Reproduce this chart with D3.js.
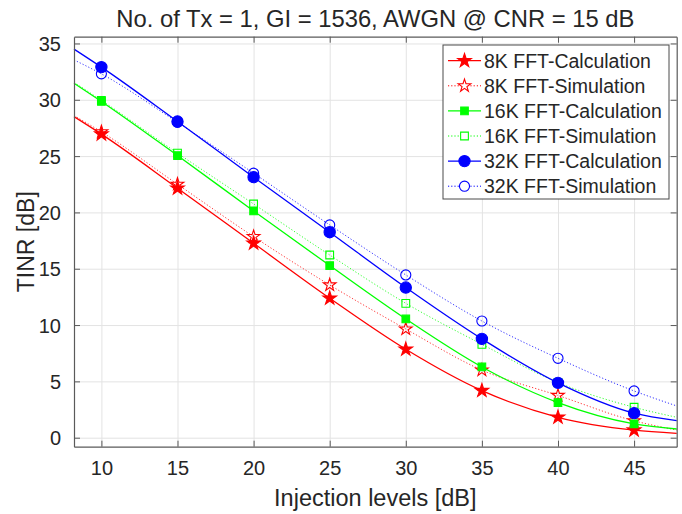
<!DOCTYPE html>
<html>
<head>
<meta charset="utf-8">
<script src="https://cdn.jsdelivr.net/npm/d3@7/dist/d3.min.js"></script>
<style>
  body { margin: 0; background: #fff; }
  text { font-family: "Liberation Sans", Arial, Helvetica, sans-serif; fill: #262626; }
</style>
</head>
<body>
<div id="chart"></div>
<script>
// injection levels where markers sit, and where the curves start / end
var xMarks = [10, 15, 20, 25, 30, 35, 40, 45];
var xLine = [8.2, 10, 15, 20, 25, 30, 35, 40, 45, 47.8];

// TINR [dB] along xLine
var calc8k  = [28.5, 26.95, 22.15, 17.26, 12.38, 7.85, 4.18, 1.81, 0.67, 0.39];
var sim8k   = [28.6, 27.15, 22.5, 17.85, 13.56, 9.65, 6.0, 3.75, 1.5, 0.68];
var calc16k = [31.47, 29.85, 25.05, 20.13, 15.28, 10.54, 6.28, 3.12, 1.23, 0.77];
var sim16k  = [31.55, 29.95, 25.26, 20.75, 16.22, 11.93, 8.29, 4.9, 2.7, 1.81];
var calc32k = [34.5, 32.9, 28.07, 23.13, 18.24, 13.33, 8.77, 4.87, 2.18, 1.51];
var sim32k  = [33.54, 32.3, 28.0, 23.48, 18.89, 14.45, 10.36, 7.05, 4.15, 2.82];

var xTicks = [10, 15, 20, 25, 30, 35, 40, 45];
var yTicks = [0, 5, 10, 15, 20, 25, 30, 35];

var series = [
  { name: '8K FFT-Calculation',  values: calc8k,  color: '#ff0000', dotted: false, marker: 'star',   filled: true },
  { name: '8K FFT-Simulation',   values: sim8k,   color: '#ff0000', dotted: true,  marker: 'star',   filled: false },
  { name: '16K FFT-Calculation', values: calc16k, color: '#00ff00', dotted: false, marker: 'square', filled: true },
  { name: '16K FFT-Simulation',  values: sim16k,  color: '#00ff00', dotted: true,  marker: 'square', filled: false },
  { name: '32K FFT-Calculation', values: calc32k, color: '#0000ff', dotted: false, marker: 'circle', filled: true },
  { name: '32K FFT-Simulation',  values: sim32k,  color: '#0000ff', dotted: true,  marker: 'circle', filled: false }
];

var width = 682, height = 514;
var margin = { top: 36.7, right: 5.3, bottom: 67.3, left: 74 };
var w = width - margin.left - margin.right,
    h = height - margin.top - margin.bottom;

var svg = d3.select('#chart').append('svg')
    .attr('width', width)
    .attr('height', height);

var x = d3.scaleLinear().domain([8.2, 47.8]).range([0, w]);
var y = d3.scaleLinear().domain([-0.8, 35.6]).range([h, 0]);

var g = svg.append('g')
    .attr('transform', 'translate(' + margin.left + ',' + margin.top + ')');

// grid
g.append('g')
    .attr('transform', 'translate(0,' + h + ')')
    .call(d3.axisBottom(x).tickValues(xTicks).tickSize(-h).tickFormat(''))
    .call(a => a.select('.domain').remove())
    .selectAll('line').attr('stroke', '#e3e3e3').attr('stroke-width', 1);
g.append('g')
    .call(d3.axisLeft(y).tickValues(yTicks).tickSize(-w).tickFormat(''))
    .call(a => a.select('.domain').remove())
    .selectAll('line').attr('stroke', '#e3e3e3').attr('stroke-width', 1);

// curves
var line = d3.line()
    .x((d, i) => x(xLine[i]))
    .y(d => y(d))
    .curve(d3.curveMonotoneX);

function markerPath(type, filled) {
  if (type == 'star') return d3.symbol().type(d3.symbolStar).size(filled ? 58 : 50)();
  if (type == 'square') return d3.symbol().type(d3.symbolSquare).size(filled ? 58 : 60)();
  return d3.symbol().type(d3.symbolCircle).size(filled ? 100 : 80)();
}

series.forEach(function (s) {
  var sg = g.append('g');
  sg.append('path')
      .datum(s.values)
      .attr('d', line)
      .attr('fill', 'none')
      .attr('stroke', s.color)
      .attr('stroke-width', s.dotted ? 1 : 1.3)
      .attr('stroke-dasharray', s.dotted ? '1.2,2' : null)
      .attr('opacity', s.dotted ? 0.8 : 1);

  var pts = s.values.map((v, i) => ({ x: xLine[i], y: v }))
      .filter(d => xMarks.indexOf(d.x) >= 0);

  sg.selectAll('.mk')
      .data(pts)
      .enter()
      .append('path')
      .attr('transform', d => 'translate(' + x(d.x) + ',' + y(d.y) + ')')
      .attr('d', markerPath(s.marker, s.filled))
      .attr('fill', s.filled ? s.color : 'none')
      .attr('stroke', s.color)
      .attr('stroke-width', 1.1);
});

// box with inward ticks on all four sides
var axisColor = '#5a5a5a';
var axB = g.append('g')
    .attr('transform', 'translate(0,' + h + ')')
    .call(d3.axisBottom(x).tickValues(xTicks).tickSizeInner(-6).tickSizeOuter(0).tickPadding(14));
var axL = g.append('g')
    .call(d3.axisLeft(y).tickValues(yTicks).tickSizeInner(-6).tickSizeOuter(0).tickPadding(13));
var axT = g.append('g')
    .call(d3.axisTop(x).tickValues(xTicks).tickSizeInner(-6).tickSizeOuter(0).tickFormat(''));
var axR = g.append('g')
    .attr('transform', 'translate(' + w + ',0)')
    .call(d3.axisRight(y).tickValues(yTicks).tickSizeInner(-6).tickSizeOuter(0).tickFormat(''));

[axB, axL, axT, axR].forEach(function (a) {
  a.select('.domain').attr('stroke', axisColor).attr('stroke-width', 1.2);
  a.selectAll('line').attr('stroke', axisColor).attr('stroke-width', 1);
  a.selectAll('text').style('font-size', '20px').attr('fill', '#262626');
});
axL.selectAll('text').attr('dy', '0.36em');

// title and axis labels
svg.append('text')
    .attr('x', margin.left + w / 2)
    .attr('y', 27)
    .attr('text-anchor', 'middle')
    .style('font-size', '23.8px')
    .text('No. of Tx = 1, GI = 1536, AWGN @ CNR = 15 dB');

svg.append('text')
    .attr('x', margin.left + w / 2)
    .attr('y', 506)
    .attr('text-anchor', 'middle')
    .style('font-size', '23.5px')
    .text('Injection levels [dB]');

svg.append('text')
    .attr('transform', 'translate(34,' + (margin.top + h / 2) + ') rotate(-90)')
    .attr('text-anchor', 'middle')
    .style('font-size', '23px')
    .text('TINR [dB]');

// legend
var lg = svg.append('g').attr('transform', 'translate(443,45)');
lg.append('rect')
    .attr('width', 226)
    .attr('height', 154)
    .attr('fill', '#fff')
    .attr('stroke', '#4a4a4a')
    .attr('stroke-width', 1);

var rows = lg.selectAll('.row')
    .data(series)
    .enter()
    .append('g')
    .attr('transform', (d, i) => 'translate(0,' + (15.7 + i * 25.1) + ')');

rows.append('line')
    .attr('x1', 5).attr('x2', 38)
    .attr('stroke', d => d.color)
    .attr('stroke-width', d => d.dotted ? 1 : 1.3)
    .attr('stroke-dasharray', d => d.dotted ? '1.2,2' : null);

rows.append('path')
    .attr('transform', 'translate(21.5,0)')
    .attr('d', d => markerPath(d.marker, d.filled))
    .attr('fill', d => d.filled ? d.color : '#fff')
    .attr('stroke', d => d.color)
    .attr('stroke-width', 1.1);

rows.append('text')
    .attr('x', 41)
    .attr('y', 7)
    .style('font-size', '19.5px')
    .text(d => d.name);
</script>
</body>
</html>
